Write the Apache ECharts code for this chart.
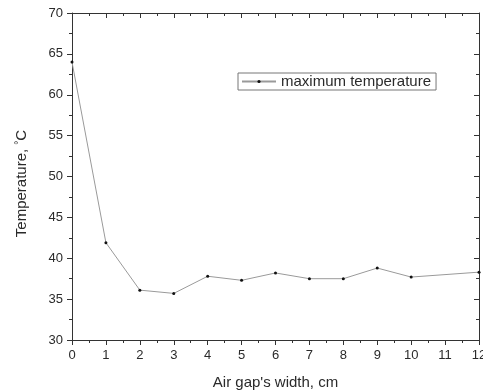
<!DOCTYPE html>
<html>
<head>
<meta charset="utf-8">
<script src="https://cdn.jsdelivr.net/npm/echarts@6/dist/echarts.min.js"></script>
<style>
html,body{margin:0;padding:0;background:#fff;}
#chart{width:483px;height:391px;}
</style>
</head>
<body>
<div id="chart"></div>
<script>
// Air gap width (cm) and the maximum temperature measured at each width (°C)
const gapWidths = [0, 1, 2, 3, 4, 5, 6, 7, 8, 9, 10, 12];
const maxTemps = [64.0, 41.9, 36.1, 35.7, 37.8, 37.3, 38.2, 37.5, 37.5, 38.8, 37.7, 38.3];
const seriesName = 'maximum temperature';

const FONT = '"Liberation Sans", Arial, sans-serif';
const AX = '#333';
const TXT = '#2a2a2a';

const chart = echarts.init(document.getElementById('chart'));

function axisCommon(extra) {
  return Object.assign({
    type: 'value',
    axisLine: { show: true, onZero: false, lineStyle: { color: AX, width: 1 } },
    splitLine: { show: false },
    minorSplitLine: { show: false }
  }, extra);
}

chart.setOption({
  animation: false,
  grid: { left: 72, right: 4, top: 13, bottom: 51, containLabel: false, outerBoundsMode: 'none' },
  legend: {
    left: 238, top: 73,
    data: [seriesName],
    itemWidth: 34, itemHeight: 4, itemGap: 0,
    padding: [1, 5, 1, 3],
    borderColor: '#777', borderWidth: 1,
    textStyle: { fontFamily: FONT, fontSize: 15, color: TXT }
  },
  xAxis: [
    axisCommon({
      position: 'bottom', min: 0, max: 12, interval: 1,
      name: "Air gap's width, cm", nameLocation: 'middle', nameGap: 35,
      nameTextStyle: { fontFamily: FONT, fontSize: 15, color: TXT },
      axisTick: { show: true, inside: false, length: 5, lineStyle: { color: AX } },
      minorTick: { show: true, splitNumber: 2, length: 3, lineStyle: { color: AX } },
      axisLabel: { fontFamily: FONT, fontSize: 13, color: TXT, margin: 9 }
    }),
    axisCommon({
      position: 'top', min: 0, max: 12, interval: 1,
      axisTick: { show: true, inside: true, length: 5, lineStyle: { color: AX } },
      minorTick: { show: true, splitNumber: 2, length: 3, lineStyle: { color: AX } },
      axisLabel: { show: false }
    })
  ],
  yAxis: [
    axisCommon({
      position: 'left', min: 30, max: 70, interval: 5,
      name: '{t|Temperature, }{s|°}{t|C}', nameLocation: 'middle', nameGap: 42, nameRotate: 90,
      nameTextStyle: {
        fontFamily: FONT, fontSize: 15, color: TXT,
        padding: [0, 14, 0, 0],
        rich: {
          t: { fontFamily: FONT, fontSize: 15, color: TXT },
          s: { fontFamily: FONT, fontSize: 10, color: TXT, verticalAlign: 'top', padding: [0, 0, 6, 0] }
        }
      },
      axisTick: { show: true, inside: false, length: 5, lineStyle: { color: AX } },
      minorTick: { show: true, splitNumber: 2, length: 3, lineStyle: { color: AX } },
      axisLabel: { fontFamily: FONT, fontSize: 13, color: TXT, margin: 9 }
    }),
    axisCommon({
      position: 'right', min: 30, max: 70, interval: 5,
      axisTick: { show: true, inside: true, length: 5, lineStyle: { color: AX } },
      minorTick: { show: true, splitNumber: 2, length: 3, lineStyle: { color: AX } },
      axisLabel: { show: false }
    })
  ],
  series: [{
    name: seriesName,
    type: 'line',
    xAxisIndex: 0, yAxisIndex: 0,
    data: gapWidths.map((x, i) => [x, maxTemps[i]]),
    symbol: 'circle', symbolSize: 3,
    itemStyle: { color: '#111' },
    lineStyle: { color: '#9a9a9a', width: 1 },
    clip: false
  }]
});
</script>
</body>
</html>
